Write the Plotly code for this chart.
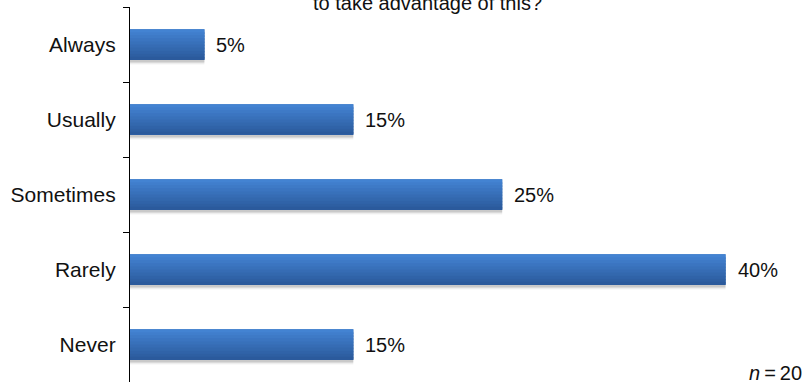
import plotly.graph_objects as go

# Survey responses (share of respondents, %)
categories = ["Always", "Usually", "Sometimes", "Rarely", "Never"]
percent = [5, 15, 25, 40, 15]
value_labels = ["5%", "15%", "25%", "40%", "15%"]
question_tail = "to take advantage of this?"
sample_note = "<i>n</i>\u2009=\u200920"

FONT = "Liberation Sans, Arial, Helvetica, sans-serif"
BAR_WIDTH = 0.41
N_STRIPS = 10
TOP_RGB = (67, 131, 210)
BOTTOM_RGB = (43, 90, 156)

fig = go.Figure()

# soft drop shadow under each bar
for shift, alpha in [(0.06, 0.05), (0.045, 0.07), (0.03, 0.10)]:
    fig.add_trace(go.Bar(
        x=percent, y=categories, orientation="h",
        width=BAR_WIDTH, offset=-BAR_WIDTH / 2 + shift,
        marker=dict(color=f"rgba(0,0,0,{alpha})", line=dict(width=0)),
        hoverinfo="skip", showlegend=False,
    ))

# solid base so strip edges blend cleanly
mid = tuple(round((a + c) / 2) for a, c in zip(TOP_RGB, BOTTOM_RGB))
fig.add_trace(go.Bar(
    x=percent, y=categories, orientation="h",
    width=BAR_WIDTH, offset=-BAR_WIDTH / 2,
    marker=dict(color=f"rgb{mid}", line=dict(width=0)),
    hoverinfo="skip", showlegend=False,
))

# vertical gradient fill built from stacked strips
strip = BAR_WIDTH / N_STRIPS
for i in range(N_STRIPS):
    t = i / (N_STRIPS - 1)
    r, g, b = (round(a + (c - a) * t) for a, c in zip(TOP_RGB, BOTTOM_RGB))
    w = strip * 1.6 if i < N_STRIPS - 1 else strip
    fig.add_trace(go.Bar(
        x=percent, y=categories, orientation="h",
        width=w, offset=-BAR_WIDTH / 2 + i * strip,
        marker=dict(color=f"rgb({r},{g},{b})", line=dict(width=0)),
        hoverinfo="skip", showlegend=False,
    ))

# value labels to the right of each bar
for cat, val, lab in zip(categories, percent, value_labels):
    fig.add_annotation(
        x=val, y=cat, xref="x", yref="y", text=lab, showarrow=False,
        xanchor="left", yanchor="middle", xshift=10,
        font=dict(family=FONT, size=20, color="#111111"),
    )

# tail of the question heading
fig.add_annotation(
    x=0.444, y=1, xref="paper", yref="paper", text=question_tail,
    showarrow=False, xanchor="center", yanchor="bottom", yshift=-9,
    font=dict(family=FONT, size=20, color="#111111"),
)

# sample size note
fig.add_annotation(
    x=1, y=0, xref="paper", yref="paper", text=sample_note,
    showarrow=False, xanchor="right", yanchor="bottom", xshift=4, yshift=-4,
    font=dict(family=FONT, size=20, color="#111111"),
)

fig.update_layout(
    width=806, height=386,
    margin=dict(l=130, r=6, t=7, b=4),
    barmode="overlay",
    plot_bgcolor="white", paper_bgcolor="white",
    font=dict(family=FONT, size=20, color="#111111"),
    xaxis=dict(range=[0, 45], visible=False, fixedrange=True),
    yaxis=dict(
        type="category", categoryorder="array", categoryarray=categories,
        range=[4.5, -0.5], tickson="boundaries",
        ticks="outside", ticklen=6, tickwidth=1.3, tickcolor="black",
        showline=True, linecolor="black", linewidth=1.3,
        showgrid=False, zeroline=False, ticklabelstandoff=9,
        tickfont=dict(family=FONT, size=21, color="#111111"),
    ),
)

fig.write_html("out.html")
